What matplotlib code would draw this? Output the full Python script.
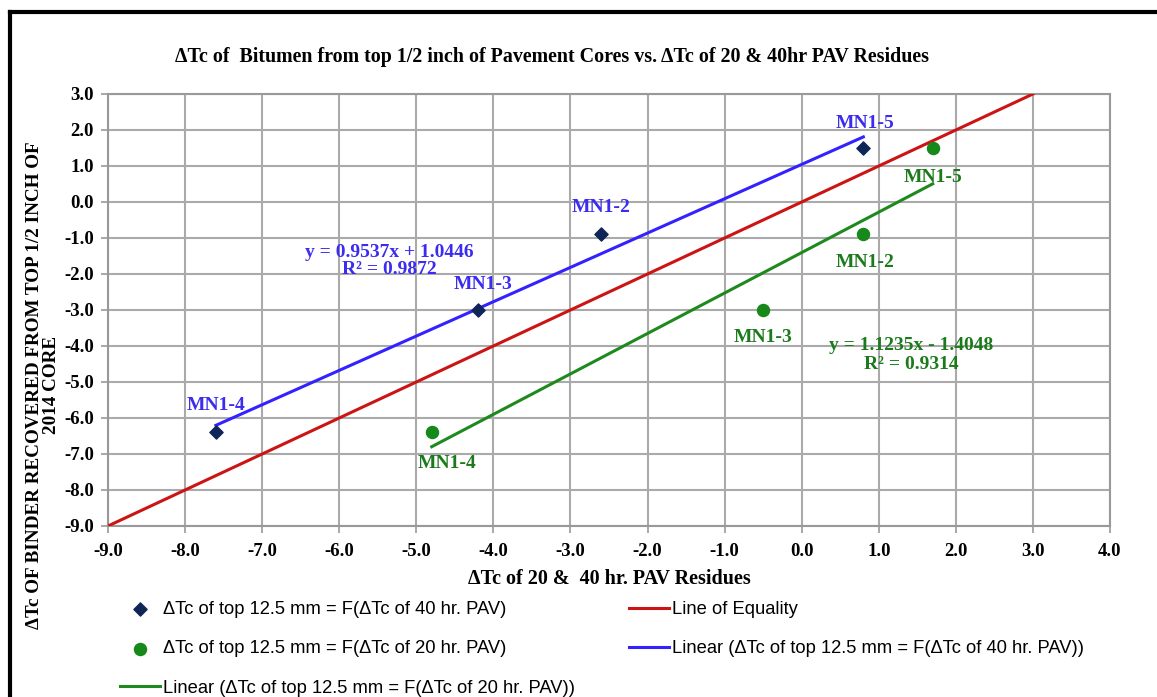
import matplotlib
matplotlib.use("Agg")
import matplotlib.pyplot as plt
from matplotlib.lines import Line2D

# data
labels = ["MN1-4", "MN1-3", "MN1-2", "MN1-5"]
x40 = [-7.6, -4.2, -2.6, 0.8]
y40 = [-6.4, -3.0, -0.9, 1.5]
x20 = [-4.8, -0.5, 0.8, 1.7]
y20 = [-6.4, -3.0, -0.9, 1.5]
fit40 = (0.9537, 1.0446)
fit20 = (1.1235, -1.4048)
equality = [-9.0, 3.0]

xticks = [-9, -8, -7, -6, -5, -4, -3, -2, -1, 0, 1, 2, 3, 4]
yticks = [3, 2, 1, 0, -1, -2, -3, -4, -5, -6, -7, -8, -9]

navy = "#0f2557"
green_pt = "#16891a"
red = "#cc1414"
blue_ln = "#3322ff"
green_ln = "#1e8a1e"
blue_txt = "#3b2cef"
green_txt = "#1b7a1b"
serif = "Liberation Serif"

W, H = 1157, 697
fig = plt.figure(figsize=(W/100, H/100), dpi=100)
ax = fig.add_axes([108/W, 1-526/H, (1110-108)/W, (526-94)/H])

# trendlines over the data range, as Excel draws them
def trend(xs, fit):
    lo, hi = min(xs), max(xs)
    return [lo, hi], [fit[0]*lo + fit[1], fit[0]*hi + fit[1]]

h1 = ax.scatter(x40, y40, marker="D", s=45, color=navy, zorder=5,
                label="ΔTc of top 12.5 mm = F(ΔTc of 40 hr. PAV)")
h2 = ax.scatter(x20, y20, marker="o", s=75, color=green_pt, zorder=5,
                label="ΔTc of top 12.5 mm = F(ΔTc of 20 hr. PAV)")
h3, = ax.plot(equality, equality, color=red, lw=2.2, label="Line of Equality", zorder=4)
tx, ty = trend(x40, fit40)
h4, = ax.plot(tx, ty, color=blue_ln, lw=2.2,
              label="Linear (ΔTc of top 12.5 mm = F(ΔTc of 40 hr. PAV))", zorder=4)
tx, ty = trend(x20, fit20)
h5, = ax.plot(tx, ty, color=green_ln, lw=2.2,
              label="Linear (ΔTc of top 12.5 mm = F(ΔTc of 20 hr. PAV))", zorder=4)

# point labels
lab_kw = dict(fontfamily=serif, fontweight="bold", fontsize=14)
blue_off = [(0.0, 0.76), (0.06, 0.72), (0.0, 0.76), (0.02, 0.69)]
for xv, yv, t, (dx, dy) in zip(x40, y40, labels, blue_off):
    ax.text(xv + dx, yv + dy, t, color=blue_txt, ha="center", va="center", **lab_kw)
green_off = [(0.2, -0.85), (0.0, -0.75), (0.02, -0.77), (0.0, -0.81)]
for xv, yv, t, (dx, dy) in zip(x20, y20, labels, green_off):
    ax.text(xv + dx, yv + dy, t, color=green_txt, ha="center", va="center", **lab_kw)

ax.text(-5.35, -1.64, "y = 0.9537x + 1.0446\nR² = 0.9872", color=blue_txt,
        ha="center", va="center", linespacing=1.05, **lab_kw)
ax.text(1.42, -4.25, "y = 1.1235x - 1.4048\nR² = 0.9314", color=green_txt,
        ha="center", va="center", linespacing=1.1, **lab_kw)

ax.set_xlim(-9, 4)
ax.set_ylim(-9, 3)
ax.set_xticks(xticks)
ax.set_yticks(yticks)
tick_kw = dict(fontfamily=serif, fontweight="bold", fontsize=13.5)
ax.set_xticklabels([f"{v:.1f}" for v in xticks], **tick_kw)
ax.set_yticklabels([f"{v:.1f}" for v in yticks], **tick_kw)
ax.tick_params(length=5, color="#999999", width=1.2, pad=5)
ax.tick_params(axis="x", pad=7)
ax.grid(True, color="#aaaaaa", lw=1.5)
ax.set_axisbelow(True)
for s in ax.spines.values():
    s.set_color("#999999")
    s.set_linewidth(1.5)

ax.set_xlabel("ΔTc of 20 &  40 hr. PAV Residues", fontfamily=serif, fontweight="bold",
              fontsize=14.5, labelpad=7)
fig.text(43/W, 1-385/H, "ΔTc OF BINDER RECOVERED FROM TOP 1/2 INCH OF\n2014 CORE",
         rotation=90, ha="center", va="center", fontfamily=serif, fontweight="bold",
         fontsize=13.8, linespacing=0.95)
fig.text(552/W, 1-57/H,
         "ΔTc of  Bitumen from top 1/2 inch of Pavement Cores vs. ΔTc of 20 & 40hr PAV Residues",
         ha="center", va="center", fontfamily=serif, fontweight="bold", fontsize=14.4)

leg = fig.legend(handles=[h1, h2, h5, h3, h4], ncol=2, loc="upper left",
                 bbox_to_anchor=(120/W, 1-601/H), frameon=False,
                 prop={"family": "Liberation Sans", "size": 13.2},
                 labelspacing=1.22, handlelength=2.18, handletextpad=0.15,
                 columnspacing=2.95, borderaxespad=0, borderpad=0)

# black frame of the scanned figure
fig.add_artist(Line2D([10/W, 10/W], [0, 1-12/H], color="black", lw=3,
                      transform=fig.transFigure))
fig.add_artist(Line2D([10/W, 1], [1-12/H, 1-12/H], color="black", lw=3,
                      transform=fig.transFigure))

fig.savefig("out.png", dpi=100)
